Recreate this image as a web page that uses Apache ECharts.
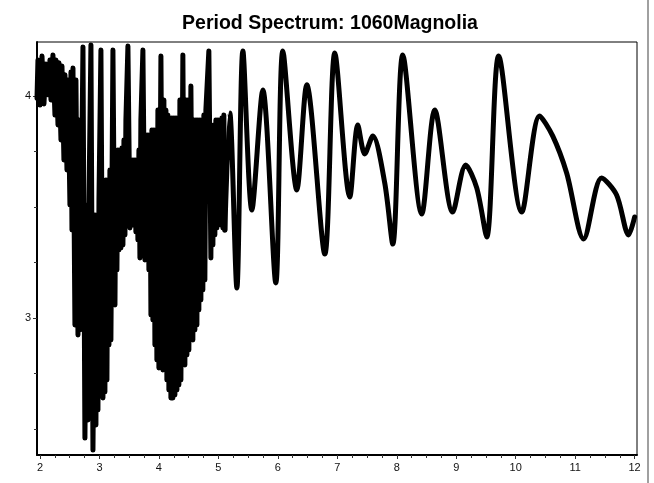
<!DOCTYPE html>
<html>
<head>
<meta charset="utf-8">
<script src="https://cdn.jsdelivr.net/npm/echarts@6/dist/echarts.min.js"></script>
<style>html,body{margin:0;padding:0;background:#fff}#c{width:654px;height:483px}</style>
</head>
<body>
<div id="c"></div>
<script>
// Period (s) and spectral value, dense short-period part
var densePeriod = [1.950,1.966,2.000,2.034,2.067,2.101,2.134,2.168,2.185,2.218,2.252,2.269,2.303,2.319,2.353,2.370,2.403,2.420,2.454,2.471,2.504,2.521,2.538,2.555,2.588,2.605,2.639,2.655,2.672,2.723,2.756,2.790,2.807,2.824,2.857,2.891,2.924,2.941,2.958,2.975,2.992,3.025,3.059,3.076,3.092,3.109,3.126,3.143,3.160,3.176,3.193,3.227,3.261,3.277,3.294,3.311,3.328,3.345,3.361,3.378,3.395,3.412,3.429,3.445,3.479,3.513,3.529,3.546,3.563,3.580,3.597,3.613,3.630,3.647,3.664,3.681,3.697,3.731,3.765,3.782,3.798,3.815,3.832,3.849,3.866,3.882,3.899,3.916,3.933,3.950,3.966,3.983,4.000,4.034,4.067,4.084,4.101,4.118,4.134,4.151,4.168,4.185,4.202,4.218,4.235,4.252,4.269,4.286,4.303,4.319,4.336,4.353,4.370,4.403,4.437,4.454,4.471,4.487,4.504,4.538,4.571,4.588,4.605,4.622,4.639,4.655,4.672,4.689,4.706,4.723,4.739,4.756,4.773,4.790,4.840,4.874,4.891,4.908,4.924,4.941,4.958,4.975,4.992,5.008,5.025,5.042,5.059,5.076,5.092,5.109];
var denseValue = [3.991,4.162,3.959,4.180,3.964,4.144,4.005,4.162,3.982,4.185,3.914,4.162,3.869,4.149,3.802,4.135,3.712,4.095,3.667,4.072,3.509,4.108,3.396,4.126,2.968,4.072,2.923,3.892,2.946,4.221,2.459,3.509,2.541,3.532,4.230,2.405,3.464,2.518,3.464,2.586,3.532,4.207,2.640,3.599,2.667,3.622,2.721,3.622,2.878,3.667,2.901,4.207,3.059,3.734,3.216,3.757,3.306,3.757,3.315,3.766,3.329,3.802,3.374,3.892,4.225,3.405,3.712,3.419,3.712,3.419,3.712,3.387,3.712,3.351,3.757,3.270,3.892,4.207,3.261,3.824,3.284,3.824,3.216,3.824,3.014,3.847,2.991,3.847,2.878,3.847,2.811,3.937,2.775,4.180,2.766,3.982,2.788,3.937,2.721,3.914,2.676,3.892,2.640,3.901,2.640,3.901,2.653,3.901,2.676,3.901,2.698,3.982,2.721,4.185,2.788,3.982,2.833,3.982,2.856,4.045,2.901,3.892,2.946,3.892,2.968,3.892,3.036,3.892,3.081,3.892,3.126,3.914,3.171,3.937,4.203,3.270,3.847,3.329,3.869,3.374,3.892,3.405,3.892,3.423,3.892,3.419,3.901,3.405,3.914,3.396];
// Longer-period smooth part
var smoothPeriod = [5.109,5.193,5.311,5.412,5.563,5.748,5.966,6.084,6.319,6.487,6.790,6.958,7.210,7.345,7.462,7.597,7.798,7.933,8.101,8.420,8.639,8.941,9.160,9.345,9.513,9.714,10.101,10.403,10.622,10.857,11.143,11.445,11.697,11.899,12.000];
var smoothValue = [3.396,3.923,3.135,4.203,3.486,4.027,3.158,4.203,3.577,4.050,3.288,4.194,3.545,3.869,3.739,3.820,3.608,3.333,4.185,3.468,3.937,3.477,3.689,3.586,3.365,4.180,3.477,3.910,3.820,3.653,3.356,3.631,3.554,3.374,3.455];

var xLabels = [2,3,4,5,6,7,8,9,10,11,12];
var xMinor = [2.25,2.5,2.75,3.25,3.5,3.75,4.25,4.5,4.75,5.25,5.5,5.75,6.25,6.5,6.75,7.25,7.5,7.75,8.25,8.5,8.75,9.25,9.5,9.75,10.25,10.5,10.75,11.25,11.5,11.75];
var yLabels = [3,4];
var yMinor = [2.5,2.75,3.25,3.5,3.75];

function zip(a,b){var r=[];for(var i=0;i<a.length;i++)r.push([a[i],b[i]]);return r;}

var chart = echarts.init(document.getElementById('c'), null, {renderer:'canvas'});
var X0=1.95, X1=12.04, Y0=2.383, Y1=4.243;
var tickCol='#333';
chart.setOption({
  animation:false,
  backgroundColor:'#fff',
  title:{text:'Period Spectrum: 1060Magnolia',left:325,top:9,textAlign:'center',
    textStyle:{fontFamily:'Liberation Sans, Arial',fontSize:19.5,fontWeight:'bold',color:'#000'}},
  grid:{left:37,right:17,top:42,bottom:28,show:true,borderColor:'#000',borderWidth:1,backgroundColor:'transparent'},
  xAxis:[
    {type:'value',min:X0,max:X1,position:'bottom',
     axisLine:{show:true,onZero:false,lineStyle:{color:'#000',width:2}},
     axisTick:{show:true,length:4,customValues:xLabels,lineStyle:{color:tickCol}},
     axisLabel:{show:true,customValues:xLabels,margin:7,fontSize:11,color:'#111',fontFamily:'Liberation Sans, Arial'},
     splitLine:{show:false}},
    {type:'value',min:X0,max:X1,position:'bottom',
     axisLine:{show:false},
     axisTick:{show:true,length:3,customValues:xMinor,lineStyle:{color:tickCol}},
     axisLabel:{show:false},splitLine:{show:false}}
  ],
  yAxis:[
    {type:'value',min:Y0,max:Y1,position:'left',
     axisLine:{show:true,onZero:false,lineStyle:{color:'#000',width:2}},
     axisTick:{show:true,length:4,customValues:yLabels,lineStyle:{color:tickCol}},
     axisLabel:{show:true,customValues:yLabels,margin:6,fontSize:11,color:'#111',fontFamily:'Liberation Sans, Arial'},
     splitLine:{show:false}},
    {type:'value',min:Y0,max:Y1,position:'left',
     axisLine:{show:false},
     axisTick:{show:true,length:3,customValues:yMinor,lineStyle:{color:tickCol}},
     axisLabel:{show:false},splitLine:{show:false}}
  ],
  series:[
    {type:'line',xAxisIndex:0,yAxisIndex:0,data:zip(densePeriod,denseValue),symbol:'none',
     lineStyle:{color:'#000',width:5,join:'round',cap:'round'},clip:true},
    {type:'line',xAxisIndex:0,yAxisIndex:0,data:zip(smoothPeriod,smoothValue),symbol:'none',smooth:0.3,
     lineStyle:{color:'#000',width:5,join:'round',cap:'round'},clip:true}
  ],
  graphic:[{type:'rect',shape:{x:647,y:0,width:2,height:483},style:{fill:'#a0a0a0'},silent:true}]
});
</script>
</body>
</html>
